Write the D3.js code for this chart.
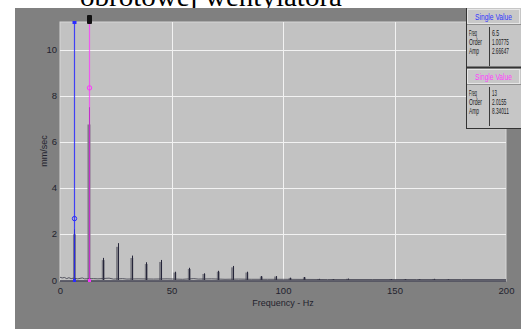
<!DOCTYPE html>
<html><head><meta charset="utf-8">
<script src="https://cdn.jsdelivr.net/npm/d3@7"></script>
<style>html,body{margin:0;padding:0;background:#fff;overflow:hidden}</style>
</head><body>
<svg id="c" width="521" height="329"></svg>
<script>
// ---- data ----
const titleText = "obrotowej wentylatora";
const xLabel = "Frequency - Hz";
const yLabel = "mm/sec";
const xTicks = [0, 50, 100, 150, 200];
const yTicks = [0, 2, 4, 6, 8, 10];
const peakFreq = [6.5, 13, 19.4, 25.8, 32.2, 38.7, 45.1, 51.5, 58.0, 64.5, 71.0, 77.4, 83.8, 90.3, 96.7, 103.2, 109.6, 116.0, 122.5, 129.0, 148.4, 154.8, 161.2, 167.7, 174.1];
const peakAmp  = [2.2, 7.5, 0.96, 1.6, 1.06, 0.77, 0.87, 0.36, 0.53, 0.29, 0.40, 0.61, 0.36, 0.17, 0.17, 0.10, 0.13, 0.05, 0.04, 0.06, 0.04, 0.04, 0.03, 0.05, 0.03];
const noiseFreq = [0, 1, 2, 3, 4, 5, 6, 8, 10, 11, 15, 17, 22, 24, 28, 30, 35, 42, 48, 55, 60, 62, 68, 74, 80, 86, 93, 100, 120, 140, 160, 180, 200];
const noiseAmp  = [0.12, 0.09, 0.11, 0.06, 0.10, 0.06, 0.08, 0.05, 0.09, 0.05, 0.06, 0.05, 0.08, 0.04, 0.06, 0.04, 0.05, 0.04, 0.05, 0.03, 0.06, 0.04, 0.05, 0.03, 0.04, 0.03, 0.03, 0.03, 0.02, 0.02, 0.02, 0.02, 0.02];
const cursorFreq = [6.5, 13];
const cursorOrder = ["1.00775", "2.0155"];
const cursorAmp = [2.66647, 8.34011];
const cursorAmpText = ["2.66647", "8.34011"];
const cursorColors = ["#2a2aff", "#ff33ff"];
const panelTitle = "Single Value";
const panelLabels = ["Freq", "Order", "Amp"];

// ---- layout ----
const svg = d3.select("#c");
const W = 521, H = 329;
const plot = {l: 60, r: 506, t: 22, b: 280};
const x = d3.scaleLinear().domain([0, 200]).range([plot.l, plot.r]);
const y = d3.scaleLinear().domain([0, 11.2]).range([plot.b, plot.t]);
const FONT = "'Liberation Sans Narrow','Arial Narrow','Liberation Sans',sans-serif";
const TXT = "#23232e";

svg.append("rect").attr("width", W).attr("height", H).attr("fill", "#fff");
// title (clipped at top, as in the reference)
svg.append("text").attr("x", 80).attr("y", 6)
  .attr("font-family", "'Liberation Serif','Times New Roman',serif")
  .attr("font-size", 28).attr("fill", "#000").attr("textLength", 262)
  .attr("lengthAdjust", "spacingAndGlyphs").text(titleText);
// gray background
svg.append("rect").attr("x", 15).attr("y", 8).attr("width", W - 15).attr("height", H - 8).attr("fill", "#808080");
// plot area
svg.append("rect").attr("x", plot.l).attr("y", plot.t).attr("width", plot.r - plot.l).attr("height", plot.b - plot.t + 1)
  .attr("fill", "#c2c2c2").attr("stroke", "#d6d6d6").attr("stroke-width", 1);

// grid
svg.append("g").selectAll("line").data(xTicks.filter(d => d > 0 && d < 200)).join("line")
  .attr("x1", d => Math.round(x(d)) + 0.5).attr("x2", d => Math.round(x(d)) + 0.5)
  .attr("y1", plot.t).attr("y2", plot.b).attr("stroke", "#f2f2f2");
svg.append("g").selectAll("line").data(yTicks.filter(d => d > 0)).join("line")
  .attr("x1", plot.l).attr("x2", plot.r)
  .attr("y1", d => Math.round(y(d)) + 0.5).attr("y2", d => Math.round(y(d)) + 0.5).attr("stroke", "#f2f2f2");

// axes (labels via d3 axes)
const xAxis = svg.append("g").attr("transform", `translate(0,${plot.b + 1})`)
  .call(d3.axisBottom(x).tickValues(xTicks).tickSize(0).tickPadding(6));
xAxis.select(".domain").remove();
xAxis.selectAll("text").attr("font-family", FONT).attr("font-size", 9.5).attr("fill", TXT);
const yAxis = svg.append("g").attr("transform", `translate(${plot.l - 1},0)`)
  .call(d3.axisLeft(y).tickValues(yTicks).tickSize(0).tickPadding(2));
yAxis.select(".domain").remove();
yAxis.selectAll("text").attr("font-family", FONT).attr("font-size", 9.5).attr("fill", TXT);

svg.append("text").attr("x", (plot.l + plot.r) / 2).attr("y", 306).attr("text-anchor", "middle")
  .attr("font-family", FONT).attr("font-size", 9).attr("fill", TXT).text(xLabel);
svg.append("text").attr("transform", `translate(47,${(plot.t + plot.b) / 2}) rotate(-90)`)
  .attr("text-anchor", "middle").attr("font-family", FONT).attr("font-size", 9).attr("fill", TXT).text(yLabel);

// spectrum
const peaks = peakFreq.map((f, i) => ({f, a: peakAmp[i]}));
svg.append("g").selectAll("rect").data(peaks).join("rect")
  .attr("x", d => x(d.f) - 1.5).attr("width", 3)
  .attr("y", d => y(d.a * 0.9)).attr("height", d => y(0) - y(d.a * 0.9))
  .attr("fill", "#7c7c84");
svg.append("g").selectAll("line").data(peaks).join("line")
  .attr("x1", d => Math.round(x(d.f)) + 0.5).attr("x2", d => Math.round(x(d.f)) + 0.5)
  .attr("y1", d => y(d.a)).attr("y2", y(0)).attr("stroke", "#26263a").attr("stroke-width", 1);
svg.append("path").datum(noiseFreq.map((f, i) => [f, noiseAmp[i]]))
  .attr("d", d3.line().x(d => x(d[0])).y(d => y(d[1])))
  .attr("fill", "none").attr("stroke", "#3a3a48").attr("stroke-width", 0.8);
// axis baseline
svg.append("line").attr("x1", plot.l).attr("x2", plot.r).attr("y1", plot.b + 1).attr("y2", plot.b + 1)
  .attr("stroke", "#3c3c4c").attr("stroke-width", 1.5);

// cursors
cursorFreq.forEach((f, i) => {
  const cx = Math.round(x(f)) + 0.5;
  svg.append("line").attr("x1", cx).attr("x2", cx).attr("y1", plot.t).attr("y2", plot.b)
    .attr("stroke", cursorColors[i]).attr("stroke-width", 1.2).attr("opacity", i === 0 ? 0.85 : 0.72);
  svg.append("circle").attr("cx", cx).attr("cy", y(cursorAmp[i])).attr("r", 2.2)
    .attr("fill", "none").attr("stroke", cursorColors[i]).attr("stroke-width", 1);
  svg.append("rect").attr("x", cx - 1.5).attr("y", plot.b - 1).attr("width", 3).attr("height", 3).attr("fill", cursorColors[i]);
  if (i === 0) {
    svg.append("rect").attr("x", cx - 2).attr("y", plot.t - 1).attr("width", 4).attr("height", 3).attr("fill", cursorColors[i]);
  } else {
    svg.append("rect").attr("x", cx - 2.5).attr("y", 15).attr("width", 5).attr("height", 9).attr("rx", 1).attr("fill", "#111");
  }
});

// info panel
const px = 466, pw = W - px;
const panel = svg.append("g");
panel.append("rect").attr("x", px).attr("y", 8).attr("width", pw).attr("height", 121).attr("fill", "#c6c6c6");
const sections = [{top: 8, color: "#3333ff"}, {top: 68, color: "#ff3cff"}];
sections.forEach((s, i) => {
  panel.append("rect").attr("x", px + 1.5).attr("y", s.top + 1.5).attr("width", pw - 3).attr("height", 14)
    .attr("fill", "#c8c8c8").attr("stroke", "#e6e6e6");
  panel.append("text").attr("x", px + pw / 2).attr("y", s.top + 8.5).attr("text-anchor", "middle")
    .attr("dominant-baseline", "central").attr("font-family", FONT).attr("font-size", 9.5)
    .attr("fill", s.color).attr("textLength", 37).attr("lengthAdjust", "spacingAndGlyphs").text(panelTitle);
  panel.append("line").attr("x1", px).attr("x2", W).attr("y1", s.top + 16.5).attr("y2", s.top + 16.5).attr("stroke", "#909090");
  const by = s.top + 17;
  panel.append("line").attr("x1", px + 23.5).attr("x2", px + 23.5).attr("y1", by + 2).attr("y2", by + 41).attr("stroke", "#3a3a3a");
  const vals = [String(cursorFreq[i]), cursorOrder[i], cursorAmpText[i]];
  const lw = [8, 13, 10];
  panelLabels.forEach((lab, k) => {
    const ty = by + 8 + k * 8.8;
    panel.append("text").attr("x", px + 3).attr("y", ty).attr("dominant-baseline", "central")
      .attr("font-family", FONT).attr("font-size", 9).attr("fill", "#1a1a22")
      .attr("textLength", lw[k]).attr("lengthAdjust", "spacingAndGlyphs").text(lab);
    panel.append("text").attr("x", px + 26).attr("y", ty).attr("dominant-baseline", "central")
      .attr("font-family", FONT).attr("font-size", 9).attr("fill", "#1a1a22")
      .attr("textLength", vals[k].length * 2.4).attr("lengthAdjust", "spacingAndGlyphs").text(vals[k]);
  });
});
panel.append("line").attr("x1", px).attr("x2", W).attr("y1", 67.5).attr("y2", 67.5).attr("stroke", "#333").attr("stroke-width", 2);
panel.append("line").attr("x1", px + 0.5).attr("x2", px + 0.5).attr("y1", 8).attr("y2", 129).attr("stroke", "#333");
panel.append("line").attr("x1", px).attr("x2", W).attr("y1", 128.5).attr("y2", 128.5).attr("stroke", "#333");
</script>
</body></html>
